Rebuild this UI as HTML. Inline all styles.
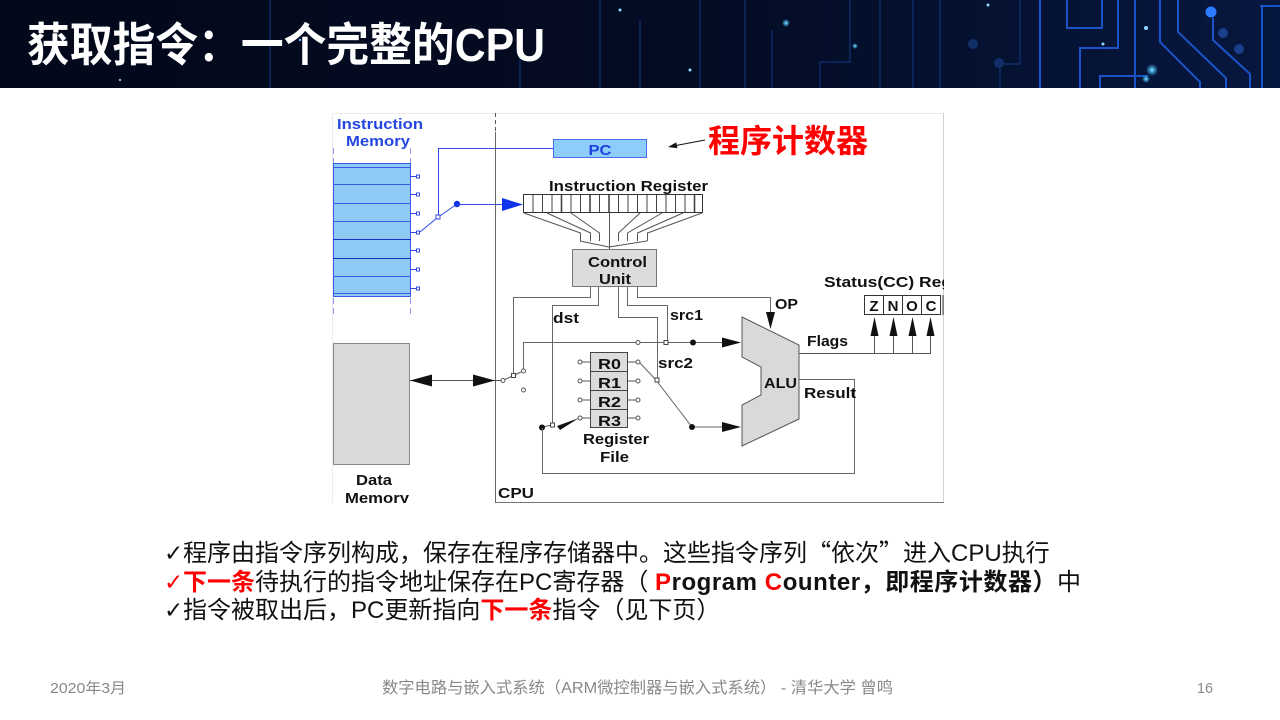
<!DOCTYPE html>
<html><head><meta charset="utf-8">
<style>
html,body{margin:0;padding:0;background:#fff;width:1280px;height:720px;overflow:hidden}
svg{display:block}
.d{font-family:"Liberation Sans",Arial,sans-serif;font-weight:bold;font-size:15px;fill:#111}
.cn{font-family:"Liberation Sans","Noto Sans CJK SC",sans-serif}
.w{stroke:#666;stroke-width:1;fill:none}
.b{stroke:#3148ea;stroke-width:1;fill:none}
</style></head><body>
<svg width="1280" height="720" viewBox="0 0 1280 720" xmlns="http://www.w3.org/2000/svg">
<defs>
<linearGradient id="hg" x1="0" x2="1" y1="0" y2="0">
<stop offset="0" stop-color="#03081a"/>
<stop offset="0.55" stop-color="#040c24"/>
<stop offset="1" stop-color="#06173f"/>
</linearGradient>
<radialGradient id="glow"><stop offset="0" stop-color="#9ff0ff"/><stop offset="0.4" stop-color="#4cc8ff" stop-opacity="0.7"/><stop offset="1" stop-color="#4cc8ff" stop-opacity="0"/></radialGradient>
<clipPath id="dc"><rect x="332" y="113" width="612" height="390"/></clipPath>
</defs>

<!-- header -->
<rect x="0" y="0" width="1280" height="88" fill="url(#hg)"/>
<g stroke="#14408f" stroke-width="1.5" fill="none" opacity="0.6">
<line x1="270" y1="0" x2="270" y2="88"/>
<line x1="520" y1="40" x2="520" y2="88"/>
<line x1="600" y1="0" x2="600" y2="88"/>
<line x1="640" y1="20" x2="640" y2="88"/>
<line x1="700" y1="0" x2="700" y2="88"/>
<line x1="745" y1="0" x2="745" y2="88"/>
<line x1="772" y1="30" x2="772" y2="88"/>
<polyline points="820,88 820,62 850,62 850,0"/>
<line x1="880" y1="0" x2="880" y2="88"/>
<line x1="913" y1="0" x2="913" y2="88"/>
<line x1="940" y1="0" x2="940" y2="88"/>
<polyline points="1000,88 1000,64 1020,64 1020,0"/>
</g>
<g stroke="#1f5fe0" stroke-width="2" fill="none" opacity="0.85">
<line x1="1040" y1="0" x2="1040" y2="88"/>
<polyline points="1067,0 1067,28 1102,28 1102,0"/>
<polyline points="1080,88 1080,48 1118,48 1118,0"/>
<line x1="1135" y1="0" x2="1135" y2="88"/>
<polyline points="1160,0 1160,42 1200,82 1200,88"/>
<polyline points="1178,0 1178,32 1226,78 1226,88"/>
<polyline points="1213,18 1213,40 1250,74 1250,88"/>
<line x1="1260" y1="6" x2="1280" y2="6"/>
<line x1="1262" y1="6" x2="1262" y2="88"/>
<polyline points="1100,88 1100,76 1148,76"/>
</g>
<circle cx="1211" cy="12" r="5.5" fill="#2a7bff"/>
<circle cx="1223" cy="33" r="5" fill="#1b3f8a"/>
<circle cx="1239" cy="49" r="5" fill="#1b3f8a"/>
<circle cx="973" cy="44" r="5" fill="#123068"/>
<circle cx="999" cy="63" r="5" fill="#123068"/>
<circle cx="1152" cy="70" r="6" fill="url(#glow)"/>
<circle cx="1146" cy="79" r="4" fill="url(#glow)"/>
<circle cx="786" cy="23" r="4" fill="url(#glow)"/>
<circle cx="855" cy="46" r="3" fill="url(#glow)"/>
<circle cx="1146" cy="28" r="2" fill="#8fd8ff"/>
<circle cx="1103" cy="44" r="1.5" fill="#8fd8ff"/>
<circle cx="988" cy="5" r="1.5" fill="#8fd8ff"/>
<circle cx="690" cy="70" r="1.5" fill="#8fd8ff"/>
<circle cx="620" cy="10" r="1.5" fill="#8fd8ff"/>
<circle cx="300" cy="40" r="1.2" fill="#6fb8ff"/>
<circle cx="120" cy="80" r="1.2" fill="#6fb8ff"/>
<text x="27" y="61" class="cn" font-size="46" font-weight="bold" fill="#ffffff" textLength="518" lengthAdjust="spacingAndGlyphs">获取指令：一个完整的CPU</text>

<!-- diagram -->
<g clip-path="url(#dc)">
<rect x="332.5" y="113.5" width="612" height="392" fill="#fff" stroke="#ececec"/>
<line x1="944" y1="113" x2="944" y2="503" stroke="#d2d2d2" stroke-width="2"/>

<!-- instruction memory -->
<text x="337" y="129" class="d" font-size="16" style="fill:#2347e0" textLength="86" lengthAdjust="spacingAndGlyphs">Instruction</text>
<text x="346" y="146" class="d" font-size="16" style="fill:#2347e0" textLength="64" lengthAdjust="spacingAndGlyphs">Memory</text>
<line x1="333.5" y1="148" x2="333.5" y2="318" stroke="#8a9af2" stroke-dasharray="6,4"/>
<line x1="410.5" y1="148" x2="410.5" y2="318" stroke="#8a9af2" stroke-dasharray="6,4"/>
<rect x="333.5" y="163.5" width="77" height="133" fill="#8fcaf5" stroke="#3b5be6"/>
<g stroke="#3b5be6" stroke-width="1">
<line x1="333" y1="167.5" x2="411" y2="167.5"/>
<line x1="333" y1="184.5" x2="411" y2="184.5"/>
<line x1="333" y1="203.5" x2="411" y2="203.5"/>
<line x1="333" y1="221.5" x2="411" y2="221.5"/>
<line x1="333" y1="239.5" x2="411" y2="239.5" stroke="#1530c0"/>
<line x1="333" y1="258.5" x2="411" y2="258.5" stroke="#1530c0"/>
<line x1="333" y1="276.5" x2="411" y2="276.5"/>
<line x1="333" y1="293.5" x2="411" y2="293.5"/>
</g>
<g stroke="#3148ea" fill="#fff" stroke-width="1">
<line x1="410" y1="176.5" x2="416" y2="176.5"/><rect x="416.5" y="175" width="3" height="3"/>
<line x1="410" y1="194.5" x2="416" y2="194.5"/><rect x="416.5" y="193" width="3" height="3"/>
<line x1="410" y1="213.5" x2="416" y2="213.5"/><rect x="416.5" y="212" width="3" height="3"/>
<line x1="410" y1="232.5" x2="416" y2="232.5"/><rect x="416.5" y="231" width="3" height="3"/>
<line x1="410" y1="250.5" x2="416" y2="250.5"/><rect x="416.5" y="249" width="3" height="3"/>
<line x1="410" y1="269.5" x2="416" y2="269.5"/><rect x="416.5" y="268" width="3" height="3"/>
<line x1="410" y1="288.5" x2="416" y2="288.5"/><rect x="416.5" y="287" width="3" height="3"/>
</g>
<polyline class="b" points="420,232 437,218 457,204"/>
<polyline class="b" points="438.5,216 438.5,148.5 553,148.5"/>
<rect x="436" y="215" width="4" height="4" fill="#fff" stroke="#3148ea"/>
<circle cx="457" cy="204" r="3.2" fill="#1133ee"/>
<line class="b" x1="457" y1="204.5" x2="505" y2="204.5"/>
<polygon points="502,198 523,204.5 502,211" fill="#1133ee"/>

<!-- CPU boundary -->
<line x1="495.5" y1="113" x2="495.5" y2="132" stroke="#555" stroke-dasharray="4,3"/>
<line x1="495.5" y1="132" x2="495.5" y2="502" stroke="#666"/>
<line x1="495" y1="502.5" x2="944" y2="502.5" stroke="#777"/>
<text x="498" y="498" class="d" font-size="16" textLength="36" lengthAdjust="spacingAndGlyphs">CPU</text>

<!-- PC -->
<rect x="553.5" y="139.5" width="93" height="18" fill="#8dcdfb" stroke="#4a6cf0"/>
<text x="600" y="155" class="d" font-size="16" style="fill:#1f3fe0" text-anchor="middle" textLength="23" lengthAdjust="spacingAndGlyphs">PC</text>

<!-- IR -->
<text x="549" y="191" class="d" font-size="15" textLength="159" lengthAdjust="spacingAndGlyphs">Instruction Register</text>
<rect x="523.5" y="194.5" width="179" height="18" fill="#fff" stroke="#333"/>
<g stroke="#444" stroke-width="1">
<line x1="533" y1="195" x2="533" y2="212"/><line x1="542.5" y1="195" x2="542.5" y2="212"/>
<line x1="552" y1="195" x2="552" y2="212"/><line x1="561.5" y1="195" x2="561.5" y2="212" stroke-width="1.6"/>
<line x1="571" y1="195" x2="571" y2="212"/><line x1="580.5" y1="195" x2="580.5" y2="212"/>
<line x1="590" y1="195" x2="590" y2="212" stroke-width="1.6"/><line x1="599.5" y1="195" x2="599.5" y2="212"/>
<line x1="609" y1="195" x2="609" y2="212" stroke-width="1.6"/><line x1="618.5" y1="195" x2="618.5" y2="212"/>
<line x1="628" y1="195" x2="628" y2="212"/><line x1="637.5" y1="195" x2="637.5" y2="212"/>
<line x1="647" y1="195" x2="647" y2="212"/><line x1="656.5" y1="195" x2="656.5" y2="212"/>
<line x1="666" y1="195" x2="666" y2="212"/><line x1="675.5" y1="195" x2="675.5" y2="212"/>
<line x1="685" y1="195" x2="685" y2="212"/><line x1="694.5" y1="195" x2="694.5" y2="212" stroke-width="1.6"/>
</g>
<!-- funnel -->
<g stroke="#555" stroke-width="1" fill="none">
<polyline points="524,213 580.5,233 580.5,241"/>
<polyline points="547,213 590.5,233 590.5,241"/>
<polyline points="571,213 599.5,233 599.5,241"/>
<line x1="609.5" y1="213" x2="609.5" y2="249"/>
<polyline points="640,213 618.5,233 618.5,241"/>
<polyline points="662,213 627.5,233 627.5,241"/>
<polyline points="683,213 637.5,233 637.5,241"/>
<polyline points="702,213 647.5,233 647.5,241"/>
<line x1="580" y1="241" x2="609" y2="247"/>
<line x1="647" y1="241" x2="609" y2="247"/>
</g>

<!-- control unit -->
<rect x="572.5" y="249.5" width="84" height="37" fill="#dcdcdc" stroke="#777"/>
<text x="588" y="267" class="d" font-size="16" textLength="59" lengthAdjust="spacingAndGlyphs">Control</text>
<text x="599" y="284" class="d" font-size="16" textLength="32" lengthAdjust="spacingAndGlyphs">Unit</text>

<!-- CU wires -->
<polyline class="w" points="590.5,287 590.5,297.5 513.5,297.5 513.5,373"/>
<polyline class="w" points="598.5,287 598.5,305.5 552.5,305.5 552.5,424"/>
<polyline class="w" points="618.5,287 618.5,317.5 657.5,317.5 657.5,379"/>
<polyline class="w" points="627.5,287 627.5,305.5 667.5,305.5 667.5,341"/>
<polyline class="w" points="637.5,287 637.5,297.5 770.5,297.5 770.5,313"/>
<polygon points="766,312 775,312 770.5,329" fill="#111"/>
<text x="553" y="323" class="d" font-size="15" textLength="26" lengthAdjust="spacingAndGlyphs">dst</text>
<text x="670" y="320" class="d" font-size="15" textLength="33" lengthAdjust="spacingAndGlyphs">src1</text>
<text x="658" y="368" class="d" font-size="15" textLength="35" lengthAdjust="spacingAndGlyphs">src2</text>
<text x="775" y="309" class="d" font-size="15" textLength="23" lengthAdjust="spacingAndGlyphs">OP</text>

<!-- y=342 line -->
<polyline class="w" points="523.5,370 523.5,342.5 723,342.5"/>
<circle cx="638" cy="342.5" r="2" fill="#fff" stroke="#555"/>
<rect x="664" y="340.5" width="4" height="4" fill="#fff" stroke="#444"/>
<circle cx="693" cy="342.5" r="3" fill="#111"/>
<polygon points="722,337.5 741,342.5 722,347.5" fill="#111"/>

<!-- data memory -->
<rect x="333.5" y="343.5" width="76" height="121" fill="#d9d9d9" stroke="#888"/>
<text x="356" y="485" class="d" font-size="16" textLength="36" lengthAdjust="spacingAndGlyphs">Data</text>
<text x="345" y="503" class="d" font-size="16" textLength="64" lengthAdjust="spacingAndGlyphs">Memory</text>
<line x1="410" y1="380.5" x2="501" y2="380.5" stroke="#555"/>
<polygon points="410,380.5 432,374.5 432,386.5" fill="#111"/>
<polygon points="495,380.5 473,374.5 473,386.5" fill="#111"/>
<circle cx="503" cy="380.5" r="2" fill="#fff" stroke="#555"/>
<line x1="505" y1="379.5" x2="521" y2="372" stroke="#555"/>
<rect x="511.5" y="373.5" width="4" height="4" fill="#fff" stroke="#444"/>
<circle cx="523.5" cy="371" r="2" fill="#fff" stroke="#555"/>
<circle cx="523.5" cy="390" r="2" fill="#fff" stroke="#555"/>

<!-- register file -->
<rect x="590.5" y="352.5" width="37" height="75" fill="#dcdcdc" stroke="#444"/>
<g stroke="#444"><line x1="590" y1="371.5" x2="628" y2="371.5"/><line x1="590" y1="390.5" x2="628" y2="390.5"/><line x1="590" y1="409.5" x2="628" y2="409.5"/></g>
<text x="598" y="369" class="d" font-size="17" textLength="23" lengthAdjust="spacingAndGlyphs">R0</text>
<text x="598" y="388" class="d" font-size="17" textLength="23" lengthAdjust="spacingAndGlyphs">R1</text>
<text x="598" y="407" class="d" font-size="17" textLength="23" lengthAdjust="spacingAndGlyphs">R2</text>
<text x="598" y="426" class="d" font-size="17" textLength="23" lengthAdjust="spacingAndGlyphs">R3</text>
<g stroke="#555" fill="#fff">
<line x1="582" y1="362" x2="590" y2="362"/><circle cx="580" cy="362" r="2"/>
<line x1="582" y1="381" x2="590" y2="381"/><circle cx="580" cy="381" r="2"/>
<line x1="582" y1="400" x2="590" y2="400"/><circle cx="580" cy="400" r="2"/>
<line x1="582" y1="418" x2="590" y2="418"/><circle cx="580" cy="418" r="2"/>
<line x1="628" y1="362" x2="636" y2="362"/><circle cx="638" cy="362" r="2"/>
<line x1="628" y1="381" x2="636" y2="381"/><circle cx="638" cy="381" r="2"/>
<line x1="628" y1="400" x2="636" y2="400"/><circle cx="638" cy="400" r="2"/>
<line x1="628" y1="418" x2="636" y2="418"/><circle cx="638" cy="418" r="2"/>
</g>
<text x="583" y="444" class="d" font-size="16" textLength="66" lengthAdjust="spacingAndGlyphs">Register</text>
<text x="600" y="462" class="d" font-size="16" textLength="29" lengthAdjust="spacingAndGlyphs">File</text>

<!-- src2 switch -->
<polyline class="w" points="640,363 656,380 692,427 723,427"/>
<rect x="655" y="378" width="4" height="4" fill="#fff" stroke="#444"/>
<circle cx="692" cy="427" r="3" fill="#111"/>
<polygon points="722,422 741,427 722,432" fill="#111"/>

<!-- dst switch & result loop -->
<rect x="550.5" y="423" width="4" height="4" fill="#fff" stroke="#444"/>
<polygon points="557,426 579,418 560,430" fill="#111"/>
<line x1="542" y1="427" x2="550" y2="425.5" stroke="#555"/>
<circle cx="542" cy="427.5" r="3" fill="#111"/>
<polyline class="w" points="542.5,428 542.5,473.5 854.5,473.5 854.5,379.5 799,379.5"/>

<!-- ALU -->
<polygon points="742,317 799,345 799,419 742,446 742,405 761,395 761,367 742,357" fill="#d9d9d9" stroke="#555"/>
<text x="764" y="388" class="d" font-size="16" textLength="33" lengthAdjust="spacingAndGlyphs">ALU</text>
<line x1="799" y1="353.5" x2="931" y2="353.5" stroke="#555"/>
<text x="807" y="346" class="d" font-size="16" textLength="41" lengthAdjust="spacingAndGlyphs">Flags</text>
<text x="804" y="398" class="d" font-size="16" textLength="52" lengthAdjust="spacingAndGlyphs">Result</text>
<g stroke="#555">
<line x1="874.5" y1="353" x2="874.5" y2="332"/><line x1="893.5" y1="353" x2="893.5" y2="332"/>
<line x1="912.5" y1="353" x2="912.5" y2="332"/><line x1="930.5" y1="353" x2="930.5" y2="332"/>
</g>
<g fill="#111">
<polygon points="870.5,336 878.5,336 874.5,317"/>
<polygon points="889.5,336 897.5,336 893.5,317"/>
<polygon points="908.5,336 916.5,336 912.5,317"/>
<polygon points="926.5,336 934.5,336 930.5,317"/>
</g>
<text x="824" y="287" class="d" font-size="15" textLength="128" lengthAdjust="spacingAndGlyphs">Status(CC) Reg</text>
<rect x="864.5" y="295.5" width="76" height="19" fill="#fff" stroke="#333"/>
<g stroke="#333"><line x1="883.5" y1="295" x2="883.5" y2="315"/><line x1="902.5" y1="295" x2="902.5" y2="315"/><line x1="921.5" y1="295" x2="921.5" y2="315"/><line x1="943" y1="295" x2="943" y2="315"/></g>
<text x="874" y="311" class="d" font-size="16" text-anchor="middle">Z</text>
<text x="893" y="311" class="d" font-size="16" text-anchor="middle">N</text>
<text x="912" y="311" class="d" font-size="16" text-anchor="middle">O</text>
<text x="931" y="311" class="d" font-size="16" text-anchor="middle">C</text>
</g>

<!-- PC annotation -->
<line x1="705" y1="140" x2="676" y2="145.5" stroke="#111" stroke-width="1"/>
<polygon points="668,147 677.4,148.3 676.3,142.4" fill="#111"/>
<text x="708" y="152" class="cn" font-size="32" font-weight="bold" fill="#ff0000">程序计数器</text>

<!-- bullet text -->
<g font-size="24" fill="#111">
<text x="164" y="561" font-family="DejaVu Sans,sans-serif" font-size="23" fill="#111">✓</text>
<text x="183" y="561" class="cn">程序由指令序列构成，保存在程序存储器中。这些指令序列<tspan font-family="Noto Sans CJK SC,sans-serif">“</tspan>依次<tspan font-family="Noto Sans CJK SC,sans-serif">”</tspan>进入CPU执行</text>
<text x="164" y="590" font-family="DejaVu Sans,sans-serif" font-size="23" fill="#ff0000">✓</text>
<text x="183" y="590" class="cn"><tspan fill="#ff0000" font-weight="bold">下一条</tspan>待执行的指令地址保存在PC寄存器（ <tspan font-weight="bold" letter-spacing="0.55"><tspan fill="#ff0000">P</tspan>rogram <tspan fill="#ff0000">C</tspan>ounter，即程序计数器）</tspan>中</text>
<text x="164" y="618" font-family="DejaVu Sans,sans-serif" font-size="23" fill="#111">✓</text>
<text x="183" y="618" class="cn">指令被取出后，PC更新指向<tspan fill="#ff0000" font-weight="bold">下一条</tspan>指令（见下页）</text>
</g>

<!-- footer -->
<g class="cn" font-size="15" fill="#888">
<text x="50" y="693" textLength="76" lengthAdjust="spacingAndGlyphs">2020年3月</text>
<text x="382" y="693" font-size="16" textLength="511" lengthAdjust="spacingAndGlyphs">数字电路与嵌入式系统（ARM微控制器与嵌入式系统） - 清华大学 曾鸣</text>
<text x="1197" y="693" textLength="16" lengthAdjust="spacingAndGlyphs">16</text>
</g>
</svg>
</body></html>
